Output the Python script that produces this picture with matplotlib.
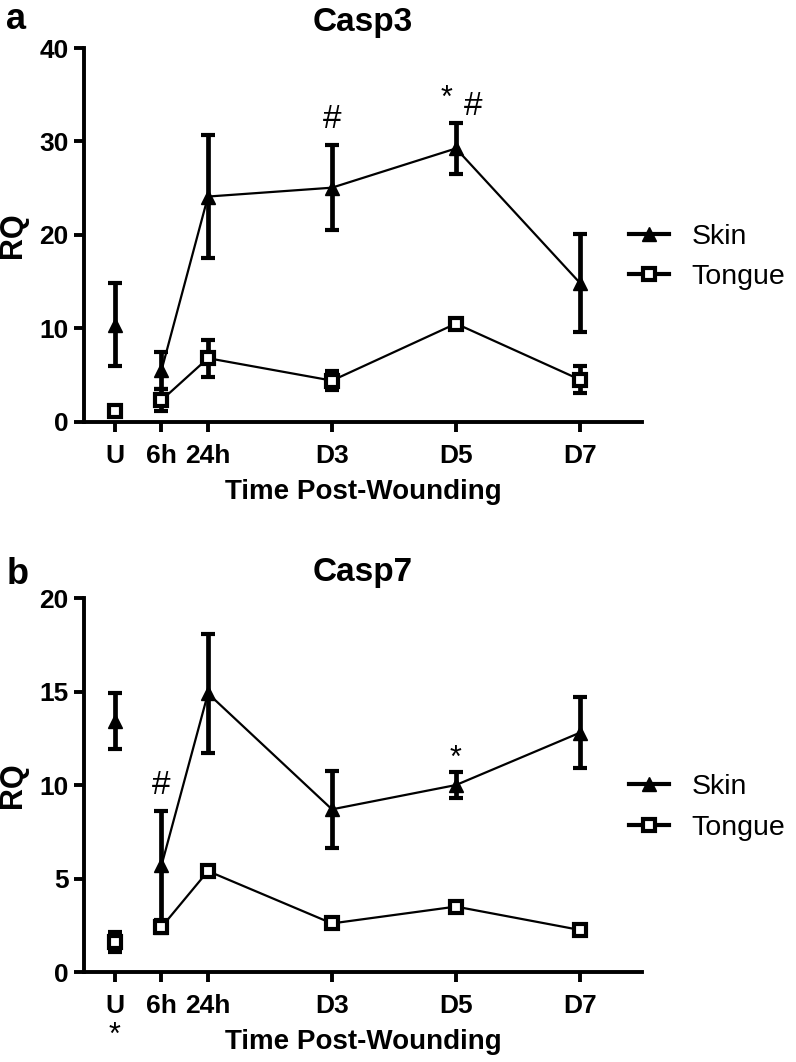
import matplotlib
matplotlib.use("Agg")
import matplotlib.pyplot as plt
from matplotlib.lines import Line2D

plt.rcParams['font.family'] = ['Liberation Sans', 'DejaVu Sans']

# time points in days (U plotted half a day before wounding)
time_days = [-0.5, 0.25, 1, 3, 5, 7]
time_labels = ['U', '6h', '24h', 'D3', 'D5', 'D7']

# Casp3
casp3_skin = [10.4, 5.5, 24.1, 25.05, 29.25, 14.85]
casp3_skin_err = [4.4, 2.0, 6.6, 4.55, 2.75, 5.25]
casp3_tongue = [1.1, 2.3, 6.8, 4.4, 10.5, 4.5]
casp3_tongue_err = [0.3, 1.2, 2.0, 1.0, 0.4, 1.45]

# Casp7
casp7_skin = [13.4, 5.7, 14.9, 8.7, 10.0, 12.8]
casp7_skin_err = [1.5, 2.9, 3.2, 2.05, 0.7, 1.9]
casp7_tongue = [1.6, 2.4, 5.4, 2.6, 3.5, 2.25]
casp7_tongue_err = [0.55, 0.3, 0.2, 0.2, 0.2, 0.15]

fig = plt.figure(figsize=(7.96, 10.62), dpi=100)
ax_a = fig.add_axes([0.1055, 0.6029, 0.701, 0.3519])
ax_b = fig.add_axes([0.1055, 0.0847, 0.701, 0.3522])


def draw_panel(ax, skin, skin_err, tongue, tongue_err, title, ymax, yticks):
    # error bars
    for vals, errs in [(skin, skin_err), (tongue, tongue_err)]:
        ax.errorbar(time_days, vals, yerr=errs, fmt='none', ecolor='black',
                    elinewidth=3.4, capsize=5, capthick=3, zorder=2)
    # connecting lines skip the unwounded point
    ax.plot(time_days[1:], skin[1:], color='black', lw=1.6, zorder=3)
    ax.plot(time_days[1:], tongue[1:], color='black', lw=1.6, zorder=3)
    ax.plot(time_days, skin, ls='none', marker='^', ms=9.5, color='black', zorder=4)
    ax.plot(time_days, tongue, ls='none', marker='s', ms=9, mfc='white',
            mec='black', mew=3, zorder=4)

    ax.set_xlim(-1, 8)
    ax.set_ylim(0, ymax)
    ax.set_yticks(yticks)
    ax.set_xticks(time_days)
    ax.set_xticklabels(time_labels)
    for s in ['top', 'right']:
        ax.spines[s].set_visible(False)
    for s in ['left', 'bottom']:
        ax.spines[s].set_linewidth(2.8)
    ax.tick_params(width=2.8, length=7, labelsize=19)
    ax.tick_params(axis='x', pad=9)
    ax.tick_params(axis='y', pad=4)
    for lab in ax.get_xticklabels() + ax.get_yticklabels():
        lab.set_fontweight('bold')
    ax.set_title(title, fontsize=24, fontweight='bold', pad=12)
    ax.set_ylabel('RQ', fontsize=22, fontweight='bold', labelpad=8)
    ax.set_xlabel('Time Post-Wounding', fontsize=20, fontweight='bold', labelpad=8)

    handles = [Line2D([], [], color='black', lw=3, marker='^', ms=9.5),
               Line2D([], [], color='black', lw=3, marker='s', ms=9,
                      mfc='white', mec='black', mew=3)]
    ax.legend(handles, ['Skin', 'Tongue'], loc='center left',
              bbox_to_anchor=(0.977, 0.44), frameon=False, fontsize=20.5,
              borderaxespad=0, borderpad=0,
              handlelength=1.4, handletextpad=0.8, labelspacing=0.5)


draw_panel(ax_a, casp3_skin, casp3_skin_err, casp3_tongue, casp3_tongue_err,
           'Casp3', 40, [0, 10, 20, 30, 40])
draw_panel(ax_b, casp7_skin, casp7_skin_err, casp7_tongue, casp7_tongue_err,
           'Casp7', 20, [0, 5, 10, 15, 20])

# significance marks
ax_a.text(3, 32.3, '#', ha='center', va='center', fontsize=24)
ax_a.text(4.84, 34.6, '*', ha='center', va='center', fontsize=22)
ax_a.text(5.27, 33.7, '#', ha='center', va='center', fontsize=24)
ax_b.text(0.25, 10.0, '#', ha='center', va='center', fontsize=24)
ax_b.text(5.0, 11.4, '*', ha='center', va='center', fontsize=22)
ax_b.annotate('*', xy=(-0.5, 0), xytext=(0, -46), textcoords='offset points',
              ha='center', va='center', fontsize=22, annotation_clip=False)

fig.text(0.008, 0.982, 'a', fontsize=26, fontweight='bold', va='center')
fig.text(0.008, 0.459, 'b', fontsize=26, fontweight='bold', va='center')

fig.savefig('out.png', dpi=100)
